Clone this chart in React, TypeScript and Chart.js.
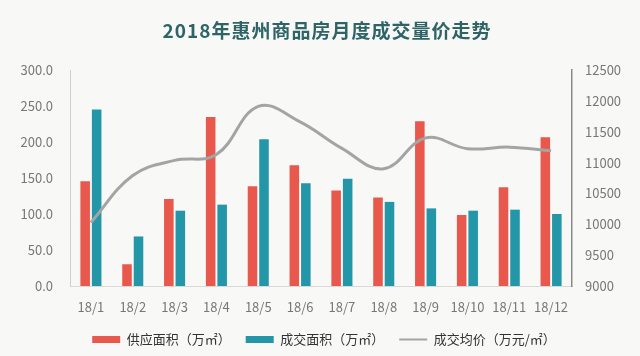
import React, { useEffect, useRef } from "react";
import { Chart, registerables } from "chart.js";

Chart.register(...registerables);

const titleText = "2018年惠州商品房月度成交量价走势";
const categories = ["18/1", "18/2", "18/3", "18/4", "18/5", "18/6", "18/7", "18/8", "18/9", "18/10", "18/11", "18/12"];
const supplyArea = [145.5, 30.2, 121.0, 234.8, 138.5, 167.8, 132.5, 122.8, 228.8, 98.6, 137.0, 206.5];
const dealArea = [245.0, 68.8, 104.6, 113.0, 203.7, 142.7, 148.8, 116.8, 107.8, 104.6, 106.0, 100.0];
const avgPrice = [10030, 10790, 11035, 11130, 11910, 11660, 11230, 10900, 11400, 11225, 11250, 11190];
const seriesNames = ["供应面积（万㎡）", "成交面积（万㎡）", "成交均价（万元/㎡）"];

const FONT = "'Noto Sans CJK SC', 'Noto Sans', sans-serif";

const titlePlugin = {
  id: "customTitle",
  afterDraw(chart: any) {
    const ctx = chart.ctx;
    ctx.save();
    ctx.font = `bold 19px ${FONT}`;
    try { (ctx as any).letterSpacing = "1px"; } catch (e) {}
    ctx.fillStyle = "#2f6466";
    ctx.textAlign = "center";
    ctx.textBaseline = "middle";
    ctx.fillText(titleText, 327, 31);
    ctx.restore();
  },
};

export default function App() {
  const ref = useRef<HTMLCanvasElement | null>(null);
  useEffect(() => {
    if (!ref.current) return;
    const chart = new Chart(ref.current, {
      type: "bar",
      data: {
        labels: categories,
        datasets: [
          {
            type: "bar",
            label: seriesNames[0],
            data: supplyArea,
            backgroundColor: "#e8584c",
            yAxisID: "y",
            order: 1,
            categoryPercentage: 0.55,
            barPercentage: 0.83,
          } as any,
          {
            type: "bar",
            label: seriesNames[1],
            data: dealArea,
            backgroundColor: "#2397a7",
            yAxisID: "y",
            order: 1,
            categoryPercentage: 0.55,
            barPercentage: 0.83,
          } as any,
          {
            type: "line",
            label: seriesNames[2],
            data: avgPrice,
            borderColor: "#a4a4a4",
            backgroundColor: "#a4a4a4",
            borderWidth: 3,
            pointRadius: 0,
            tension: 0.4,
            yAxisID: "y1",
            order: 0,
          } as any,
        ],
      },
      options: {
        animation: false,
        responsive: false,
        maintainAspectRatio: false,
        layout: { padding: { top: 70, left: 8, right: 0, bottom: 0 } },
        plugins: {
          title: { display: false },
          tooltip: { enabled: false },
          legend: {
            position: "bottom",
            labels: {
              usePointStyle: true,
              pointStyleWidth: 28,
              boxHeight: 7,
              padding: 15,
              color: "#333",
              font: { family: FONT, size: 13 },
              sort: (a: any, b: any) => a.datasetIndex - b.datasetIndex,
              generateLabels: (chart: any) => {
                const items = Chart.defaults.plugins.legend.labels.generateLabels(chart);
                items.forEach((it: any) => {
                  if (it.datasetIndex === 2) {
                    it.pointStyle = "line";
                    it.lineWidth = 2;
                    it.strokeStyle = "#a4a4a4";
                  } else {
                    it.pointStyle = "rect";
                    it.lineWidth = 0;
                  }
                });
                return items;
              },
            },
          },
        },
        scales: {
          x: {
            grid: { display: false, drawTicks: false },
            border: { display: true, color: "#d8d8d8", width: 1 },
            ticks: { color: "#777", font: { family: FONT, size: 13 }, padding: 13, maxRotation: 0, autoSkip: false },
            afterFit: (s: any) => { s.height = 32; },
          },
          y: {
            position: "left",
            min: 0,
            max: 300,
            grid: { display: false, drawTicks: false },
            border: { display: true, color: "#cfcfcf", width: 1 },
            ticks: {
              stepSize: 50,
              color: "#777",
              font: { family: FONT, size: 13 },
              padding: 17,
              callback: (v: any) => Number(v).toFixed(1),
            },
            afterFit: (s: any) => { s.width = 62; },
          },
          y1: {
            position: "right",
            min: 9000,
            max: 12500,
            grid: { display: false, drawTicks: false },
            border: { display: true, color: "#8a8a8a", width: 1.5 },
            ticks: {
              stepSize: 500,
              color: "#777",
              font: { family: FONT, size: 13 },
              padding: 13,
              callback: (v: any) => String(v),
            },
            afterFit: (s: any) => { s.width = 68; },
          },
        },
      } as any,
      plugins: [titlePlugin],
    });
    return () => chart.destroy();
  }, []);
  return (
    <div style={{ position: "fixed", left: 0, top: 0, width: 640, height: 356, background: "#f8f8f7" }}>
      <canvas ref={ref} width={640} height={356} style={{ display: "block", width: 640, height: 356 }} />
    </div>
  );
}
